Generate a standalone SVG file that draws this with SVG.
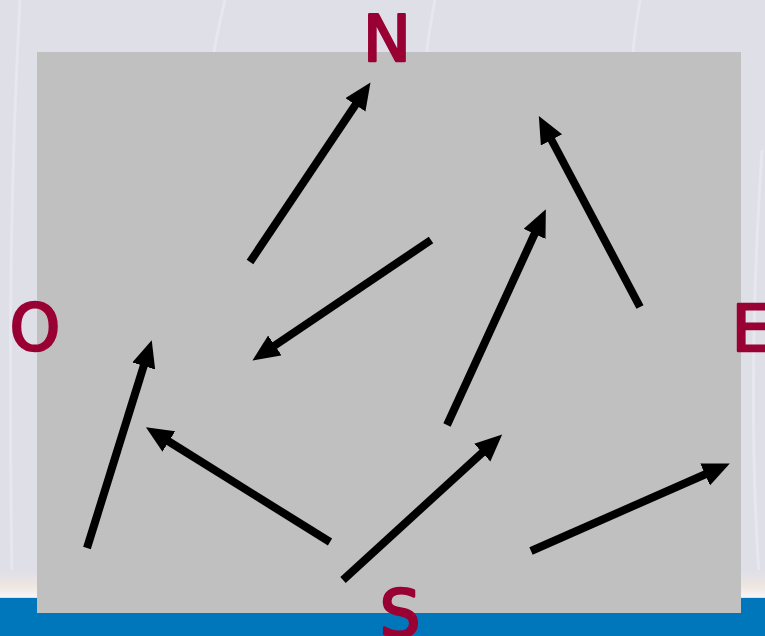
<svg xmlns="http://www.w3.org/2000/svg" width="765" height="636" viewBox="0 0 765 636">
  <defs>
    <marker id="ah" markerUnits="userSpaceOnUse" markerWidth="30" markerHeight="26" refX="1" refY="12" orient="auto">
      <path d="M0,0 L27,12 L0,24 Z" fill="#000"/>
    </marker>
    <linearGradient id="band" x1="0" y1="0" x2="0" y2="1">
      <stop offset="0" stop-color="#dfdfe8"/>
      <stop offset="0.6" stop-color="#eee6e0"/>
      <stop offset="1" stop-color="#f6f6f8"/>
    </linearGradient>
  </defs>
  <style>
    .arrow { fill: none; stroke: #000; stroke-width: 8; marker-end: url(#ah); }
    .lbl { font-family: "DejaVu Sans", "Liberation Sans", sans-serif; font-weight: normal; font-size: 64px; fill: #990033; stroke: #990033; stroke-width: 2.5; stroke-linejoin: round; text-anchor: middle; }
    .streak { fill: none; stroke: #ffffff; stroke-opacity: 0.25; stroke-width: 3; }
  </style>
  <g id="background">
    <rect x="0" y="0" width="765" height="636" fill="#dfdfe8"/>
    <path class="streak" d="M20,0 C12,150 8,300 12,580"/>
    <path class="streak" d="M225,0 C218,30 215,45 214,52"/>
    <path class="streak" d="M435,0 C430,25 428,40 427,52"/>
    <path class="streak" d="M640,0 C636,25 634,40 633,52"/>
    <path class="streak" d="M762,150 C752,300 750,450 760,590"/>
    <rect x="0" y="570" width="765" height="27" fill="url(#band)"/>
    <rect x="0" y="598" width="765" height="38" fill="#0077bb"/>
  </g>
  <g id="panel">
    <rect x="37" y="52" width="704" height="561" fill="#c0c0c0"/>
  </g>
  <g id="connectors">
    <path class="arrow" d="M250,262 L356,104"/>
    <path class="arrow" d="M431,240 L274,346"/>
    <path class="arrow" d="M640,307 L551,139"/>
    <path class="arrow" d="M447,425 L535,233"/>
    <path class="arrow" d="M87,548 L144,365"/>
    <path class="arrow" d="M330,542 L168,441"/>
    <path class="arrow" d="M343,580 L483,452"/>
    <path class="arrow" d="M531,551 L706,474"/>
  </g>
  <g id="label-N"><text class="lbl" x="387" y="61">N</text></g>
  <g id="label-O"><text class="lbl" x="35" y="350">O</text></g>
  <g id="label-E"><text class="lbl" x="752" y="351">E</text></g>
  <g id="label-S"><text class="lbl" x="400" y="636">S</text></g>
</svg>
